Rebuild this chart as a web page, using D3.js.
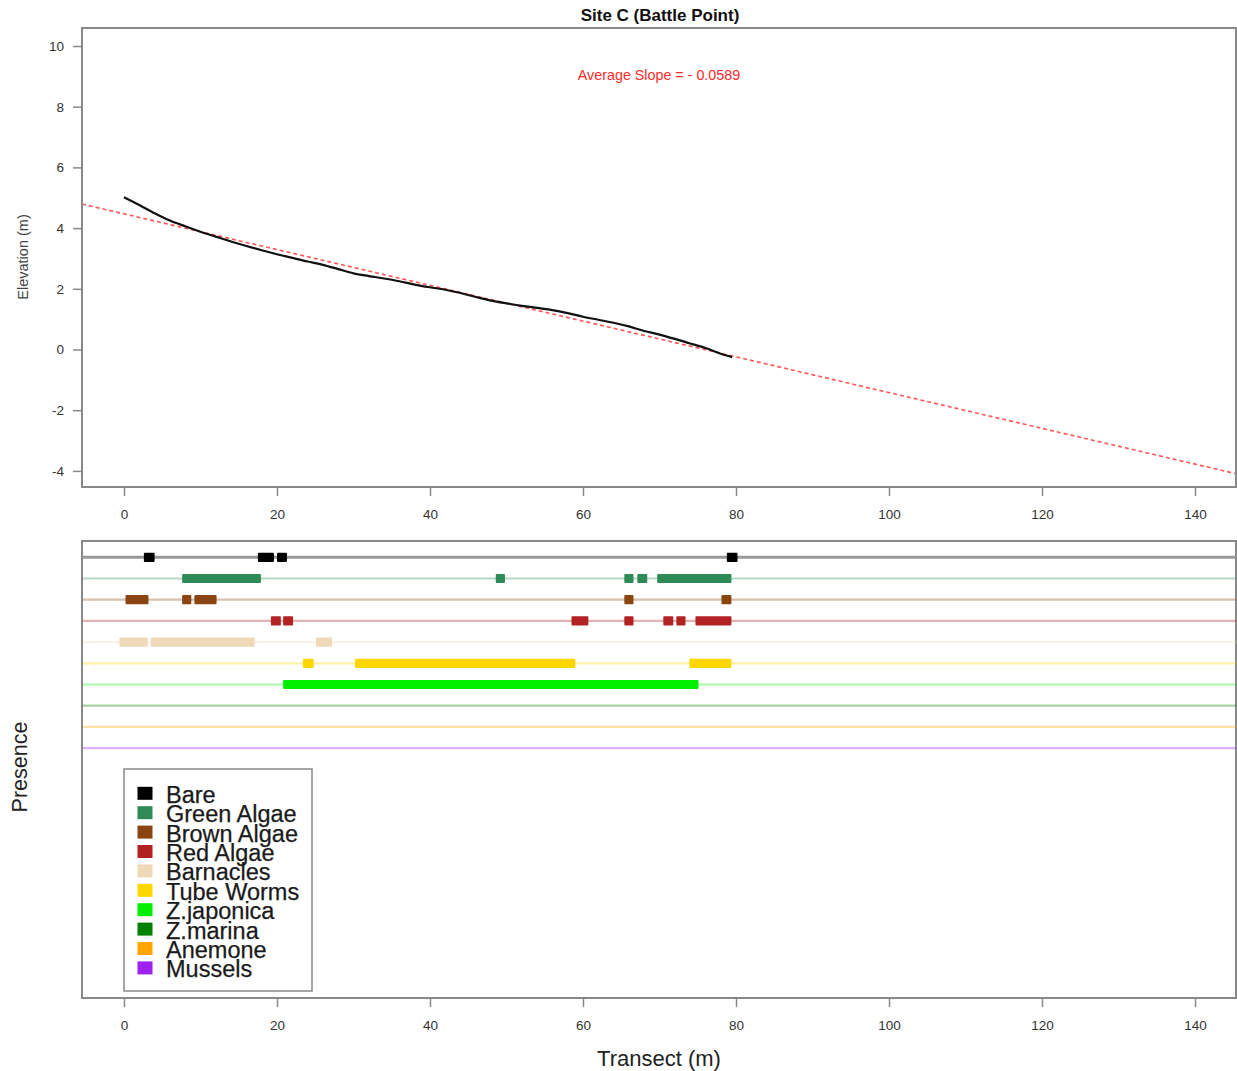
<!DOCTYPE html>
<html><head><meta charset="utf-8">
<script src="https://cdn.jsdelivr.net/npm/d3@7"></script>
<style>body{margin:0;background:#fff;} svg{display:block;font-family:"Liberation Sans",Arial,sans-serif;}</style>
</head><body>
<svg id="c" width="1237" height="1071"></svg>
<script>
// ---- data ----
const xTicks = [0, 20, 40, 60, 80, 100, 120, 140];
const yTicks = [-4, -2, 0, 2, 4, 6, 8, 10];
const profileX = [0, 2, 4, 6, 8, 10, 12, 14, 16, 18, 20, 22, 24, 26, 28, 30, 32, 34, 36, 38, 40, 42, 44, 46, 48, 50, 52, 54, 56, 58, 60, 62, 64, 66, 68, 70, 72, 74, 76, 78, 79.5];
const profileY = [5.02, 4.76, 4.49, 4.25, 4.06, 3.88, 3.72, 3.56, 3.41, 3.27, 3.14, 3.02, 2.9, 2.79, 2.65, 2.51, 2.42, 2.34, 2.25, 2.14, 2.05, 1.97, 1.86, 1.73, 1.61, 1.52, 1.44, 1.37, 1.3, 1.2, 1.08, 0.98, 0.88, 0.76, 0.61, 0.49, 0.35, 0.2, 0.05, -0.14, -0.25];
const slope = -0.0589;
const intercept = 4.47;
const species = ["Bare", "Green Algae", "Brown Algae", "Red Algae", "Barnacles", "Tube Worms", "Z.japonica", "Z.marina", "Anemone", "Mussels"];
const speciesColors = ["#000000", "#2e8b57", "#8b4513", "#b22222", "#f0d9b8", "#ffd700", "#00ee00", "#008000", "#ffa500", "#a020f0"];
const bareSeg = [[2.6, 4.0], [17.5, 19.6], [20.0, 21.3], [78.8, 80.2]];
const greenSeg = [[7.6, 17.9], [48.6, 49.8], [65.4, 66.6], [67.1, 68.4], [69.7, 79.4]];
const brownSeg = [[0.2, 3.2], [7.6, 8.8], [9.2, 12.1], [65.4, 66.6], [78.1, 79.4]];
const redSeg = [[19.2, 20.5], [20.8, 22.1], [58.5, 60.7], [65.4, 66.6], [70.5, 71.8], [72.2, 73.4], [74.7, 79.4]];
const barnacleSeg = [[-0.6, 3.1], [3.5, 17.1], [25.1, 27.2]];
const tubeSeg = [[23.4, 24.8], [30.2, 59.0], [73.9, 79.4]];
const zjapSeg = [[20.8, 75.1]];
const zmarSeg = [];
const anemoneSeg = [];
const musselSeg = [];
const presence = [bareSeg, greenSeg, brownSeg, redSeg, barnacleSeg, tubeSeg, zjapSeg, zmarSeg, anemoneSeg, musselSeg];

// ---- layout ----
const svg = d3.select("#c");
const L = 82, R = 1236;
const top1 = 28, bot1 = 487, top2 = 541, bot2 = 998;
const x = d3.scaleLinear().domain([0, 140]).range([124, 1195]);
const y = d3.scaleLinear().domain([0, 10]).range([349.5, 46]);
const yRow = d3.scaleLinear().domain([0, 9]).range([557.3, 748.1]);
const axisCol = "#333", boxCol = "#888";

// ---- top panel ----
svg.append("text").attr("x", 660).attr("y", 21).attr("text-anchor", "middle")
  .attr("font-size", 17).attr("font-weight", "bold").attr("fill", "#111").text("Site C (Battle Point)");

const g1 = svg.append("g");
g1.append("rect").attr("x", L).attr("y", top1).attr("width", R - L).attr("height", bot1 - top1)
  .attr("fill", "none").attr("stroke", boxCol).attr("stroke-width", 2);

// y axis
const yAx = g1.append("g").attr("transform", `translate(${L},0)`)
  .call(d3.axisLeft(y).tickValues(yTicks).tickSize(9).tickPadding(9).tickFormat(d3.format("d")));
yAx.select(".domain").remove();
yAx.selectAll("line").attr("stroke", boxCol).attr("stroke-width", 1.5);
yAx.selectAll("text").attr("font-size", 13.5).attr("fill", axisCol).attr("font-family", "Liberation Sans, Arial")
  .text(d => d < 0 ? "-" + Math.abs(d) : d);

// x axes
function xAxis(gy) {
  const ax = svg.append("g").attr("transform", `translate(0,${gy})`)
    .call(d3.axisBottom(x).tickValues(xTicks).tickSize(8).tickPadding(13));
  ax.select(".domain").remove();
  ax.selectAll("line").attr("stroke", boxCol).attr("stroke-width", 1.5);
  ax.selectAll("text").attr("font-size", 13.5).attr("fill", axisCol).attr("font-family", "Liberation Sans, Arial");
}
xAxis(bot1 + 1);

svg.append("text").attr("transform", "translate(28,257) rotate(-90)").attr("text-anchor", "middle")
  .attr("font-size", 14.5).attr("fill", "#444").text("Elevation (m)");

svg.append("text").attr("x", 659).attr("y", 80).attr("text-anchor", "middle")
  .attr("font-size", 14.3).attr("fill", "#ff2a2a").text("Average Slope = - 0.0589");

svg.append("clipPath").attr("id", "clip1").append("rect")
  .attr("x", L + 1).attr("y", top1 + 1).attr("width", R - L - 2).attr("height", bot1 - top1 - 2);

const xMin = x.invert(L), xMax = x.invert(R);
svg.append("line").attr("clip-path", "url(#clip1)")
  .attr("x1", x(xMin)).attr("y1", y(intercept + slope * xMin))
  .attr("x2", x(xMax)).attr("y2", y(intercept + slope * xMax))
  .attr("stroke", "#ff5555").attr("stroke-width", 1.6).attr("stroke-dasharray", "4,3");

const line = d3.line().x((d, i) => x(profileX[i])).y(d => y(d)).curve(d3.curveMonotoneX);
svg.append("path").datum(profileY).attr("d", line).attr("fill", "none")
  .attr("stroke", "#111").attr("stroke-width", 2.2).attr("stroke-linejoin", "round");

// ---- bottom panel ----
svg.append("rect").attr("x", L).attr("y", top2).attr("width", R - L).attr("height", bot2 - top2)
  .attr("fill", "none").attr("stroke", boxCol).attr("stroke-width", 2);
xAxis(bot2 + 1);

svg.append("text").attr("x", 659).attr("y", 1066).attr("text-anchor", "middle")
  .attr("font-size", 22).attr("fill", "#222").text("Transect (m)");
svg.append("text").attr("transform", "translate(27,767) rotate(-90)").attr("text-anchor", "middle")
  .attr("font-size", 21.5).attr("fill", "#222").text("Presence");

const rows = svg.append("g");
species.forEach((s, i) => {
  rows.append("line").attr("x1", L + 1).attr("x2", R)
    .attr("y1", yRow(i)).attr("y2", yRow(i))
    .attr("stroke", i === 0 ? "#999" : speciesColors[i])
    .attr("stroke-opacity", i === 0 ? 1 : 0.35)
    .attr("stroke-width", i === 0 ? 3 : 2.2);
  rows.selectAll(null).data(presence[i]).enter().append("rect")
    .attr("x", d => x(d[0])).attr("width", d => x(d[1]) - x(d[0]))
    .attr("y", yRow(i) - 4.6).attr("height", 9.2)
    .attr("rx", 1).attr("fill", speciesColors[i]);
});

// legend
const lg = svg.append("g");
lg.append("rect").attr("x", 124).attr("y", 769).attr("width", 188).attr("height", 222)
  .attr("fill", "#fff").attr("stroke", boxCol).attr("stroke-width", 1.5);
species.forEach((s, i) => {
  const cy = 793.3 + 19.4 * i;
  lg.append("rect").attr("x", 137.5).attr("y", cy - 6.5).attr("width", 15).attr("height", 13).attr("fill", speciesColors[i]);
  lg.append("text").attr("x", 166).attr("y", cy + 9.5).attr("font-size", 23.5).attr("fill", "#1a1a1a")
    .attr("stroke", "#1a1a1a").attr("stroke-width", 0.25).text(s);
});
</script>
</body></html>
